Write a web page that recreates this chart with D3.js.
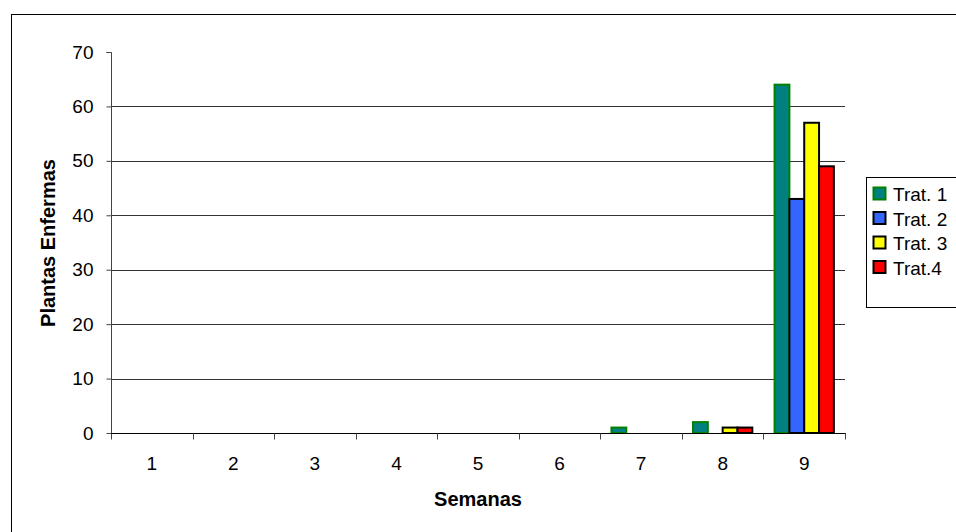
<!DOCTYPE html>
<html><head><meta charset="utf-8">
<script src="https://cdn.jsdelivr.net/npm/d3@7"></script>
<style>body{margin:0;background:#fff}svg{display:block;font-family:"Liberation Sans",Arial,sans-serif}</style>
</head><body>
<script>
const categories = ["1","2","3","4","5","6","7","8","9"];
const seriesNames = ["Trat. 1","Trat. 2","Trat. 3","Trat.4"];
const trat1 = [0,0,0,0,0,0,1,2,64];
const trat2 = [0,0,0,0,0,0,0,0,43];
const trat3 = [0,0,0,0,0,0,0,1,57];
const trat4 = [0,0,0,0,0,0,0,1,49];
const yTicks = [0,10,20,30,40,50,60,70];
const fills = ["#008080","#3366FF","#FFFF00","#FF0000"];
const strokes = ["#008000","#000000","#000000","#000000"];
const seriesValues = [trat1,trat2,trat3,trat4];

const W=956,H=532;
const svg=d3.select("body").append("svg").attr("width",W).attr("height",H);
svg.append("rect").attr("x",11.5).attr("y",14.5).attr("width",960).attr("height",540)
  .attr("fill","none").attr("stroke","#000").attr("stroke-width",1);

const L=111,R=845,T=52,B=433;
const x=d3.scaleBand().domain(categories).range([L,R]).paddingInner(0).paddingOuter(0);
const y=d3.scaleLinear().domain([0,70]).range([B,T]);
const bw=x.bandwidth()/5.5;
const inner=d3.scaleBand().domain(seriesNames).range([bw*0.75,bw*4.75]);

svg.append("g").selectAll("line").data(yTicks.filter(v=>v>0&&v<70)).join("line")
  .attr("x1",L).attr("x2",R).attr("y1",d=>Math.round(y(d))+0.5).attr("y2",d=>Math.round(y(d))+0.5)
  .attr("stroke","#333").attr("stroke-width",1);

seriesNames.forEach((s,i)=>{
  svg.append("g").selectAll("rect").data(seriesValues[i].map((v,j)=>({v,c:categories[j]})).filter(d=>d.v>0)).join("rect")
    .attr("x",d=>x(d.c)+inner(s)).attr("width",inner.bandwidth())
    .attr("y",d=>y(d.v)).attr("height",d=>B-y(d.v))
    .attr("fill",fills[i]).attr("stroke",strokes[i]).attr("stroke-width",2);
});

const ya=svg.append("g").attr("transform",`translate(${L+0.5},0)`)
  .call(d3.axisLeft(y).tickValues(yTicks).tickSize(5).tickPadding(13).tickFormat(d3.format("d")));
ya.select(".domain").attr("stroke","#444").attr("d",`M-5,${T+0.5}H0V${B}`);
ya.selectAll(".tick line").attr("stroke","#444");
ya.selectAll(".tick text").attr("font-size",19).attr("fill","#000").attr("font-family","Liberation Sans, Arial, sans-serif");

const xa=svg.append("g").attr("transform",`translate(0,${B+0.5})`);
xa.append("line").attr("x1",L).attr("x2",R+1).attr("y1",0).attr("y2",0).attr("stroke","#000");
xa.selectAll("line.tk").data(categories.concat(["end"])).join("line").attr("class","tk")
  .attr("x1",(d,i)=>Math.round(L+i*x.bandwidth())+0.5).attr("x2",(d,i)=>Math.round(L+i*x.bandwidth())+0.5)
  .attr("y1",0).attr("y2",6).attr("stroke","#444");
xa.selectAll("text").data(categories).join("text")
  .attr("x",d=>x(d)+x.bandwidth()/2).attr("y",36).attr("text-anchor","middle")
  .attr("font-size",19).text(d=>d);

svg.append("text").attr("x",478).attr("y",506).attr("text-anchor","middle")
  .attr("font-size",20).attr("font-weight","bold").text("Semanas");
svg.append("text").attr("transform","translate(55,243) rotate(-90)").attr("text-anchor","middle")
  .attr("font-size",20).attr("font-weight","bold").text("Plantas Enfermas");

const lg=svg.append("g");
lg.append("rect").attr("x",866.5).attr("y",177.5).attr("width",120).attr("height",130)
  .attr("fill","#fff").attr("stroke","#000");
seriesNames.forEach((s,i)=>{
  const cy=194+i*24.5;
  lg.append("rect").attr("x",873.5).attr("y",cy-6.5).attr("width",12).attr("height",12)
    .attr("fill",fills[i]).attr("stroke",strokes[i]).attr("stroke-width",2);
  lg.append("text").attr("x",893).attr("y",cy+7).attr("font-size",19).text(s);
});
</script>
</body></html>
